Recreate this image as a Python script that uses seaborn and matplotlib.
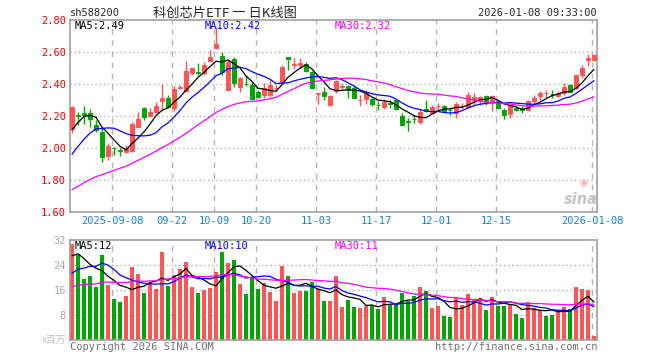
import numpy as np
import pandas as pd
import matplotlib
matplotlib.use('Agg')
import matplotlib.pyplot as plt
import seaborn as sns

# daily candles 2025-08-28 .. 2026-01-08
opens = [2.121, 2.210, 2.220, 2.219, 2.146, 2.104, 1.952, 2.005, 1.990, 1.980,
         1.983, 2.135, 2.250, 2.202, 2.225, 2.296, 2.313, 2.254, 2.375, 2.358,
         2.473, 2.475, 2.469, 2.546, 2.630, 2.579, 2.365, 2.558, 2.385, 2.405,
         2.396, 2.354, 2.333, 2.333, 2.375, 2.417, 2.571, 2.520, 2.520, 2.525,
         2.475, 2.342, 2.354, 2.271, 2.358, 2.385, 2.390, 2.375, 2.300, 2.308,
         2.308, 2.273, 2.260, 2.282, 2.302, 2.204, 2.169, 2.183, 2.167, 2.246,
         2.219, 2.265, 2.265, 2.242, 2.219, 2.265, 2.260, 2.302, 2.296, 2.329,
         2.281, 2.296, 2.240, 2.213, 2.254, 2.254, 2.240, 2.296, 2.329, 2.348,
         2.340, 2.327, 2.344, 2.396, 2.375, 2.458, 2.552, 2.552]
highs = [2.265, 2.225, 2.267, 2.244, 2.177, 2.125, 2.031, 2.010, 2.004, 2.020,
         2.162, 2.225, 2.260, 2.250, 2.292, 2.400, 2.333, 2.392, 2.396, 2.546,
         2.510, 2.535, 2.540, 2.615, 2.760, 2.600, 2.552, 2.573, 2.448, 2.458,
         2.413, 2.365, 2.406, 2.427, 2.396, 2.521, 2.571, 2.563, 2.567, 2.542,
         2.483, 2.348, 2.385, 2.333, 2.427, 2.406, 2.396, 2.392, 2.333, 2.365,
         2.317, 2.296, 2.308, 2.302, 2.308, 2.219, 2.190, 2.208, 2.246, 2.302,
         2.271, 2.281, 2.271, 2.260, 2.288, 2.281, 2.354, 2.344, 2.329, 2.333,
         2.333, 2.302, 2.250, 2.275, 2.260, 2.265, 2.302, 2.333, 2.358, 2.365,
         2.365, 2.358, 2.406, 2.400, 2.463, 2.521, 2.588, 2.588]
lows = [2.094, 2.146, 2.150, 2.135, 2.100, 1.913, 1.927, 1.960, 1.952, 1.970,
        1.975, 2.131, 2.177, 2.198, 2.219, 2.233, 2.250, 2.233, 2.371, 2.354,
        2.458, 2.458, 2.458, 2.540, 2.620, 2.458, 2.358, 2.385, 2.354, 2.392,
        2.302, 2.312, 2.317, 2.323, 2.354, 2.413, 2.490, 2.496, 2.500, 2.479,
        2.371, 2.277, 2.302, 2.267, 2.344, 2.365, 2.313, 2.308, 2.267, 2.275,
        2.267, 2.240, 2.246, 2.254, 2.240, 2.142, 2.108, 2.156, 2.150, 2.225,
        2.212, 2.240, 2.229, 2.208, 2.188, 2.246, 2.254, 2.271, 2.271, 2.271,
        2.233, 2.246, 2.183, 2.187, 2.233, 2.219, 2.233, 2.281, 2.302, 2.317,
        2.317, 2.323, 2.333, 2.350, 2.371, 2.442, 2.517, 2.546]
closes = [2.260, 2.205, 2.210, 2.183, 2.115, 1.948, 2.015, 2.000, 1.985, 2.000,
          2.150, 2.181, 2.198, 2.225, 2.267, 2.317, 2.260, 2.371, 2.386, 2.483,
          2.504, 2.473, 2.521, 2.573, 2.650, 2.479, 2.538, 2.406, 2.438, 2.400,
          2.308, 2.323, 2.379, 2.396, 2.379, 2.510, 2.556, 2.525, 2.535, 2.483,
          2.379, 2.345, 2.329, 2.327, 2.421, 2.388, 2.365, 2.317, 2.302, 2.344,
          2.275, 2.270, 2.292, 2.278, 2.246, 2.146, 2.167, 2.181, 2.229, 2.233,
          2.260, 2.267, 2.233, 2.240, 2.277, 2.267, 2.333, 2.323, 2.323, 2.281,
          2.327, 2.250, 2.208, 2.271, 2.240, 2.240, 2.296, 2.317, 2.348, 2.348,
          2.337, 2.344, 2.385, 2.354, 2.458, 2.504, 2.567, 2.583]
# volume, x百万
volumes = [30.8, 27.2, 19.5, 20.5, 17.0, 27.2, 17.8, 13.2, 12.3, 14.2,
           23.5, 21.2, 15.1, 18.3, 16.4, 28.3, 17.4, 20.9, 22.8, 25.1,
           17.1, 15.1, 16.1, 16.7, 21.9, 28.3, 24.7, 25.7, 18.0, 14.8,
           20.3, 16.4, 18.3, 15.5, 12.6, 23.8, 20.6, 15.1, 15.8, 15.8,
           18.5, 16.5, 12.5, 12.5, 20.6, 10.7, 13.0, 10.7, 10.3, 11.0,
           11.3, 10.1, 13.9, 11.3, 11.3, 15.1, 12.6, 14.2, 17.1, 15.8,
           10.3, 11.0, 7.8, 7.5, 13.5, 11.3, 14.8, 12.9, 13.5, 9.7,
           13.9, 11.0, 11.0, 11.6, 8.4, 7.1, 12.3, 10.3, 9.7, 7.8,
           8.1, 9.7, 10.7, 10.0, 17.1, 16.4, 16.1, 1.4]

# sessions before the window (not drawn, only feed the moving averages; estimated)
pre_closes = [1.55, 1.56, 1.58, 1.57, 1.59, 1.60, 1.58, 1.61, 1.62, 1.60,
              1.63, 1.65, 1.64, 1.66, 1.67, 1.69, 1.68, 1.70, 1.72, 1.70,
              1.72, 1.76, 1.80, 1.85, 1.92, 1.98, 2.02, 2.15, 2.17]
pre_volumes = [13, 15, 14, 16, 12, 15, 17, 14, 13, 16,
               15, 18, 14, 16, 15, 13, 17, 15, 16, 16,
               14, 16, 15, 17, 17, 24, 27, 30, 23]

tick_idx = [7, 17, 24, 31, 41, 51, 61, 71, 87]
tick_labels = ['2025-09-08', '09-22', '10-09', '10-20', '11-03',
               '11-17', '12-01', '12-15', '2026-01-08']
price_ticks = [1.60, 1.80, 2.00, 2.20, 2.40, 2.60, 2.80]
vol_ticks = [8, 16, 24, 32]

RED = '#ff5555'
GREEN = '#00a600'
MA_COLORS = {5: 'black', 10: '#0000ff', 30: '#ff00ff'}
MONO = 'DejaVu Sans Mono'

sns.set_style('white')
plt.rcParams['font.family'] = ['Noto Sans CJK SC', 'DejaVu Sans']

df = pd.DataFrame({'o': opens, 'h': highs, 'l': lows, 'c': closes, 'v': volumes})
df['x'] = np.arange(len(df))
k = len(pre_closes)
close_all = pd.Series(pre_closes + closes)
vol_all = pd.Series(pre_volumes + volumes)
for w in (5, 10, 30):
    df[f'ma{w}'] = close_all.rolling(w).mean().iloc[k:].to_numpy()
    df[f'vma{w}'] = vol_all.rolling(w).mean().iloc[k:].to_numpy()

up = df['c'] >= df['o']
cols = np.where(up, RED, GREEN)
vcols = np.where(df['c'] > df['o'], RED, GREEN)

fig = plt.figure(figsize=(6.6, 3.6), dpi=100)
W, H = 660, 360
ax = fig.add_axes([70 / W, 1 - 212.3 / H, 527 / W, 192 / H])
axv = fig.add_axes([70 / W, 1 - 340.3 / H, 527 / W, 100.3 / H])

grid_x = [i - 0.33 for i in tick_idx]
for a in (ax, axv):
    for gx in grid_x:
        a.axvline(gx, color='#b4b4b4', lw=1, ls=(0, (4, 4)), zorder=0)
    for s in a.spines.values():
        s.set_color('#a0a0a0')
        s.set_linewidth(1.2)
    a.set_xlim(-0.33, 87.5)
    a.tick_params(length=0, pad=3)

# candles
ax.vlines(df['x'], df['l'], df['h'], colors=cols, lw=1, zorder=2)
body_lo = np.minimum(df['o'], df['c'])
body_h = np.abs(df['c'] - df['o'])
ax.bar(df['x'], body_h, bottom=body_lo, width=0.75, color=cols,
       edgecolor=cols, linewidth=0.7, zorder=3)
for w in (5, 10, 30):
    sns.lineplot(x=df['x'], y=df[f'ma{w}'], ax=ax, color=MA_COLORS[w],
                 lw=0.9, zorder=4)

for y in price_ticks[1:-1]:
    ax.axhline(y, color='#b0b0b0', lw=1, ls=(0, (1, 2)), zorder=0)
ax.set_ylim(1.60, 2.80)
ax.set_yticks(price_ticks)
ax.set_yticklabels([f'{t:.2f}' for t in price_ticks], color='#ee0000',
                   family=MONO, fontsize=7.5)
ax.set_xticks(grid_x)
ax.set_xticklabels(tick_labels, color='#1a80d8', family=MONO, fontsize=7.5)
ax.set_xlabel('')
ax.set_ylabel('')

# volume
axv.bar(df['x'], df['v'], width=0.8, color=vcols, linewidth=0, zorder=2)
for w in (5, 10, 30):
    sns.lineplot(x=df['x'], y=df[f'vma{w}'], ax=axv, color=MA_COLORS[w],
                 lw=0.9, zorder=4)
for y in vol_ticks[:-1]:
    axv.axhline(y, color='#b0b0b0', lw=1, ls=(0, (1, 2)), zorder=0)
axv.set_ylim(0, 32)
axv.set_yticks(vol_ticks)
axv.set_yticklabels([str(t) for t in vol_ticks], color='#a8a8a8',
                    family=MONO, fontsize=7.5)
axv.set_xticks([])
axv.set_xlabel('')
axv.set_ylabel('')


def ftext(px, py, s, **kw):
    fig.text(px / W, 1 - py / H, s, va='center', **kw)


last = df.iloc[-1]
ftext(70, 13, 'sh588200', family=MONO, fontsize=7.5)
ftext(225, 13, '科创芯片ETF 一 日K线图', ha='center', fontsize=9.5,
      family=['Noto Sans CJK SC', 'DejaVu Sans'])
ftext(597, 13, '2026-01-08 09:33:00', ha='right', family=MONO, fontsize=7.5)

ftext(75, 26, f"MA5:{last['ma5']:.2f}", family=MONO, fontsize=7.5, color='black')
ftext(205, 26, f"MA10:{last['ma10']:.2f}", family=MONO, fontsize=7.5, color='#0000ff')
ftext(335, 26, f"MA30:{last['ma30']:.2f}", family=MONO, fontsize=7.5, color='#ff00ff')

ftext(75, 246, f"MA5:{int(last['vma5'])}", family=MONO, fontsize=7.5, color='black')
ftext(205, 246, f"MA10:{int(last['vma10'])}", family=MONO, fontsize=7.5, color='#0000ff')
ftext(335, 246, f"MA30:{int(last['vma30'])}", family=MONO, fontsize=7.5, color='#ff00ff')

ftext(70, 347, 'Copyright 2026 SINA.COM', family=MONO, fontsize=7.5, color='#707070')
ftext(597, 347, 'http://finance.sina.com.cn', ha='right', family=MONO,
      fontsize=7.5, color='#707070')
ftext(66, 340, 'x百万', ha='right', fontsize=7, color='#c0c0c0',
      family=['Noto Sans CJK SC', 'DejaVu Sans'])

# sina watermark
ftext(584, 183, '◉', ha='center', fontsize=7, color='#f2b4b4', family='DejaVu Sans')
ftext(581, 199, 'sina', ha='center', fontsize=10.5, color='#c4c4c4',
      family='DejaVu Sans', style='italic', weight='bold')

fig.savefig('out.png', dpi=100)
